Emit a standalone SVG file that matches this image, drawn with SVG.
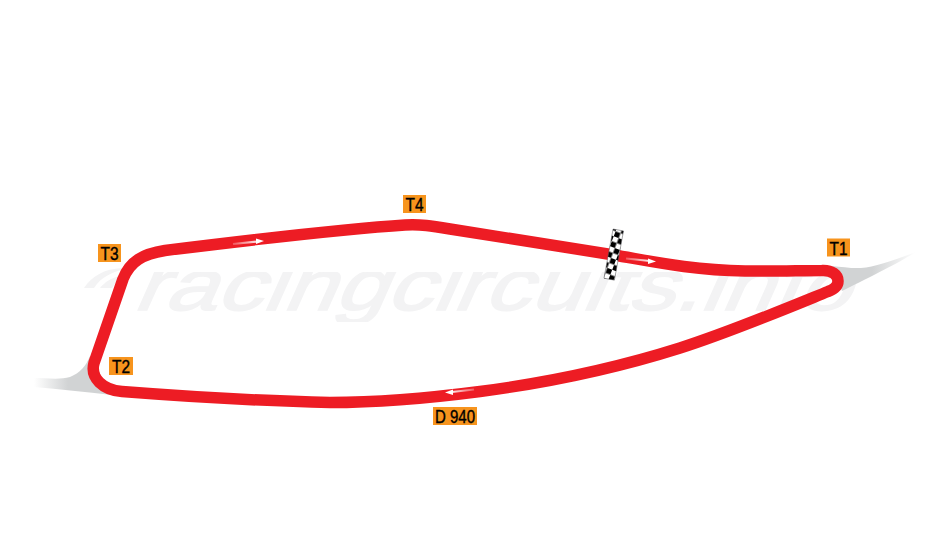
<svg xmlns="http://www.w3.org/2000/svg" width="938" height="555" viewBox="0 0 938 555">
<style>
.lbl{fill:#f7941d}
.lt{font-family:"Liberation Sans",Arial,sans-serif;font-size:18px;fill:#000;text-anchor:middle;stroke:#000;stroke-width:.4px}
.ah{fill:#fff}
</style>
<defs>
<linearGradient id="fr" gradientUnits="userSpaceOnUse" x1="872" y1="0" x2="916" y2="0"><stop offset="0" stop-color="#d1d3d4"/><stop offset="1" stop-color="#d1d3d4" stop-opacity="0"/></linearGradient>
<linearGradient id="fl" gradientUnits="userSpaceOnUse" x1="68" y1="0" x2="34" y2="0"><stop offset="0" stop-color="#d1d3d4"/><stop offset="1" stop-color="#d1d3d4" stop-opacity="0"/></linearGradient>
<linearGradient id="wa" gradientUnits="userSpaceOnUse" x1="233" y1="0" x2="262" y2="0"><stop offset="0" stop-color="#fff" stop-opacity=".25"/><stop offset="1" stop-color="#fff"/></linearGradient>
<linearGradient id="wb" gradientUnits="userSpaceOnUse" x1="626" y1="0" x2="652" y2="0"><stop offset="0" stop-color="#fff" stop-opacity=".25"/><stop offset="1" stop-color="#fff"/></linearGradient>
<linearGradient id="wc" gradientUnits="userSpaceOnUse" x1="475" y1="0" x2="448" y2="0"><stop offset="0" stop-color="#fff" stop-opacity=".25"/><stop offset="1" stop-color="#fff"/></linearGradient>
<pattern id="chk" width="10.6" height="10.6" patternUnits="userSpaceOnUse" patternTransform="translate(618.3 230) rotate(10.500) translate(-5.3 0)"><rect width="10.6" height="10.6" fill="#fff"/><rect x="5.3" width="5.3" height="5.3" fill="#000"/><rect y="5.3" width="5.3" height="5.3" fill="#000"/></pattern>
<clipPath id="uni"><rect x="130" y="272" width="730" height="50"/></clipPath>
</defs>
<g id="watermark">
<g clip-path="url(#uni)"><text transform="translate(132 310) skewX(-24)" font-family="Liberation Sans,Arial,sans-serif" font-size="72" fill="#f3f3f4" stroke="#f3f3f4" stroke-width="1.500" textLength="716" lengthAdjust="spacingAndGlyphs">racingcircuits.info</text></g>
<path d="M84 288C92 276 104 269 122 268L130 268C112 271 100 278 94 288ZM100 288C105 282 111 278 120 276L112 288Z" fill="#f3f3f4"/>
</g>
<g id="runoffs">
<path d="M832 266C842 267 852 268.500 861 268C875 267 895 260 916 252C900 262 878 273 842 291Z" fill="url(#fr)"/>
<path d="M90 356C86 366 80 373 70 377C60 380 46 378 34 378V387C60 389 85 392 112 395Z" fill="url(#fl)"/>
</g>
<g id="connectors">
<path id="track" d="M614 255C650 261 690 270 745 271C775 271.500 800 270.500 822 270.500C832 270 838 275 838 281C838 286 835 289 828 291.500C785 309 730 332 680 348C620 367 560 381 480 391.500C430 398 380 402.500 330 402.500C260 401 180 396 122 391.500C103 390 90 378 94 363L123 279C130 261 143 254 165 250.500C250 240 340 229 405 225C420 224 432 226 450 229Z" fill="none" stroke="#ed1c24" stroke-width="11.500" stroke-linejoin="round"/>
</g>
<g id="direction-arrows">
<path d="M233 244L258 241.500" fill="none" stroke="url(#wa)" stroke-width="2.200"/><path class="ah" d="M264 241L256 238.500V244Z"/>
<path d="M626 258.500L650 261" fill="none" stroke="url(#wb)" stroke-width="2.200"/><path class="ah" d="M656 261.500L648 258.500V264Z"/>
<path d="M474 389.500L452 392" fill="none" stroke="url(#wc)" stroke-width="2.200"/><path class="ah" d="M445 392.500L453 389.500V395Z"/>
</g>
<g id="start-finish"><rect x="-5.300" y="0" width="10.600" height="50" transform="translate(618.300 230) rotate(10.500)" fill="url(#chk)" stroke="#58595b" stroke-width=".5"/></g>
<g id="T1"><rect class="lbl" x="827" y="238.500" width="23" height="18"/><text class="lt" x="838.500" y="254.500" textLength="18" lengthAdjust="spacingAndGlyphs">T1</text></g>
<g id="T2"><rect class="lbl" x="109" y="357" width="24" height="18"/><text class="lt" x="121" y="373" textLength="18" lengthAdjust="spacingAndGlyphs">T2</text></g>
<g id="T3"><rect class="lbl" x="98" y="244" width="23" height="18"/><text class="lt" x="109.500" y="260" textLength="18" lengthAdjust="spacingAndGlyphs">T3</text></g>
<g id="T4"><rect class="lbl" x="403" y="195" width="23" height="18"/><text class="lt" x="414.500" y="211" textLength="18" lengthAdjust="spacingAndGlyphs">T4</text></g>
<g id="D940"><rect class="lbl" x="433" y="407" width="44" height="18"/><text class="lt" x="455" y="423" textLength="40" lengthAdjust="spacingAndGlyphs">D 940</text></g>
</svg>
